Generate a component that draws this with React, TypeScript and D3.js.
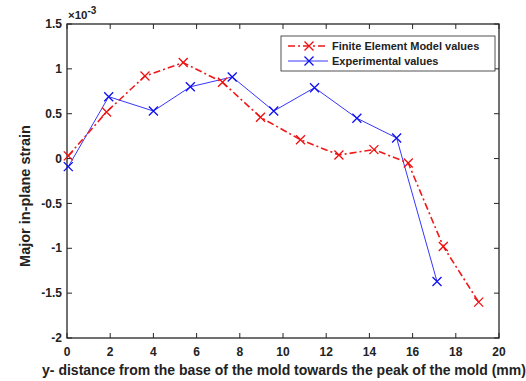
import * as d3 from 'd3';
import { FC } from 'react';

// values in units of 1e-3
const femX = [0.06, 1.83, 3.61, 5.38, 7.2, 8.96, 10.81, 12.59, 14.21, 15.8, 17.42, 19.06];
const femY = [0.03, 0.52, 0.92, 1.07, 0.85, 0.46, 0.21, 0.04, 0.1, -0.05, -0.98, -1.6];
const expX = [0.06, 1.93, 4.0, 5.71, 7.65, 9.57, 11.46, 13.42, 15.26, 17.13];
const expY = [-0.09, 0.69, 0.53, 0.8, 0.91, 0.53, 0.79, 0.45, 0.23, -1.37];

const xTicks = [0, 2, 4, 6, 8, 10, 12, 14, 16, 18, 20];
const yTicks = [-2, -1.5, -1, -0.5, 0, 0.5, 1, 1.5];

const seriesNames = ['Finite Element Model values', 'Experimental values'];

const W = 526;
const H = 381;
const margin = { top: 24, right: 27, bottom: 43, left: 67 };
const font = '"Liberation Sans", Arial, sans-serif';

type Pt = { x: number; y: number };

const Cross: FC<{ x: number; y: number; color: string; s?: number }> = ({ x, y, color, s = 4.5 }) => (
  <path
    d={`M${x - s},${y - s}L${x + s},${y + s}M${x - s},${y + s}L${x + s},${y - s}`}
    stroke={color}
    strokeWidth={1.3}
    fill="none"
  />
);

const App: FC = () => {
  const iw = W - margin.left - margin.right;
  const ih = H - margin.top - margin.bottom;

  const x = d3.scaleLinear().domain([0, 20]).range([0, iw]);
  const y = d3.scaleLinear().domain([-2, 1.5]).range([ih, 0]);

  const fem: Pt[] = femX.map((v, i) => ({ x: v, y: femY[i] }));
  const exp: Pt[] = expX.map((v, i) => ({ x: v, y: expY[i] }));

  const line = d3
    .line<Pt>()
    .x((d) => x(d.x))
    .y((d) => y(d.y));

  const axisColor = '#262626';
  const tickLen = 5;

  return (
    <svg
      width={W}
      height={H}
      style={{ position: 'absolute', left: 0, top: 0, background: '#fff' }}
      fontFamily={font}
    >
      <g transform={`translate(${margin.left},${margin.top})`}>
        {/* ticks, mirrored on all sides */}
        {xTicks.map((t) => (
          <g key={`xt${t}`}>
            <line x1={x(t)} x2={x(t)} y1={ih} y2={ih - tickLen} stroke={axisColor} strokeWidth={1} />
            <line x1={x(t)} x2={x(t)} y1={0} y2={tickLen} stroke={axisColor} strokeWidth={1} />
            <text
              x={x(t)}
              y={ih + 18}
              textAnchor="middle"
              fontSize={12}
              fontWeight="bold"
              fill="#222"
            >
              {t}
            </text>
          </g>
        ))}
        {yTicks.map((t) => (
          <g key={`yt${t}`}>
            <line x1={0} x2={tickLen} y1={y(t)} y2={y(t)} stroke={axisColor} strokeWidth={1} />
            <line x1={iw} x2={iw - tickLen} y1={y(t)} y2={y(t)} stroke={axisColor} strokeWidth={1} />
            <text
              x={-5}
              y={y(t)}
              dy="0.35em"
              textAnchor="end"
              fontSize={12}
              fontWeight="bold"
              fill="#222"
            >
              {t}
            </text>
          </g>
        ))}
        <rect x={0} y={0} width={iw} height={ih} fill="none" stroke={axisColor} strokeWidth={1.3} />

        {/* exponent */}
        <text x={1} y={-5} fontSize={11.5} fontWeight="bold" fill="#222">
          ×10
          <tspan dy={-5} fontSize={10}>
            -3
          </tspan>
        </text>

        {/* series */}
        <path d={line(exp) ?? ''} fill="none" stroke="#1f1fff" strokeWidth={0.9} />
        {exp.map((d, i) => (
          <Cross key={`e${i}`} x={x(d.x)} y={y(d.y)} color="#1010ee" />
        ))}
        <path
          d={line(fem) ?? ''}
          fill="none"
          stroke="#f01818"
          strokeWidth={1.6}
          strokeDasharray="7 3 2 3"
        />
        {fem.map((d, i) => (
          <Cross key={`f${i}`} x={x(d.x)} y={y(d.y)} color="#ee1010" />
        ))}

        {/* legend */}
        <g transform={`translate(${iw - 218},12)`}>
          <rect x={0} y={0} width={214} height={35} fill="#fff" stroke={axisColor} strokeWidth={0.8} />
          <line x1={7} x2={47} y1={10} y2={10} stroke="#f01818" strokeWidth={1.6} strokeDasharray="7 3 2 3" />
          <Cross x={28} y={10} color="#ee1010" />
          <text x={51} y={10} dy="0.35em" fontSize={11} fontWeight="bold" fill="#222">
            {seriesNames[0]}
          </text>
          <line x1={7} x2={47} y1={25} y2={25} stroke="#1f1fff" strokeWidth={0.9} />
          <Cross x={28} y={25} color="#1010ee" />
          <text x={51} y={25} dy="0.35em" fontSize={11} fontWeight="bold" fill="#222">
            {seriesNames[1]}
          </text>
        </g>

        {/* axis titles */}
        <text x={217} y={ih + 37} textAnchor="middle" fontSize={14} fontWeight="bold" fill="#222">
          y- distance from the base of the mold towards the peak of the mold (mm)
        </text>
        <text
          transform={`translate(${-37},${172}) rotate(-90)`}
          textAnchor="middle"
          fontSize={14.5}
          fontWeight="bold"
          fill="#222"
        >
          Major in-plane strain
        </text>
      </g>
    </svg>
  );
};

export default App;
